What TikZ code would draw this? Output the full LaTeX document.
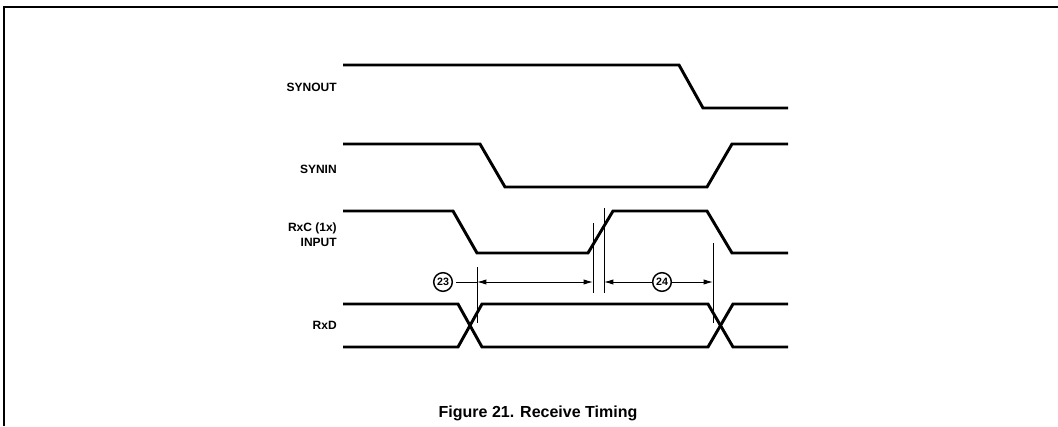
\documentclass[tikz,border=0pt]{standalone}
\usepackage{fontspec}
\setmainfont{Liberation Sans}
\usetikzlibrary{positioning,arrows.meta}

\begin{document}
\begin{tikzpicture}[x=0.75pt,y=-0.75pt,
  sig/.style={line width=2.2pt,line join=miter},
  dim/.style={line width=0.7pt,>={Latex[length=7pt,width=4pt]}},
  lbl/.style={font=\small\bfseries,anchor=east,align=right,inner sep=0pt},
  tnum/.style={draw,circle,line width=1.1pt,inner sep=0pt,minimum size=14pt,font=\footnotesize\bfseries}]
\useasboundingbox (0,0) rectangle (1058,426);
%\draw[help lines,step=50] (0,0) grid (1058,426);
\draw[line width=1.5pt] (4,426) -- (4,7) -- (1058,7);
% signal names
\node[lbl] (synout) at (337,87) {SYNOUT};
\node[lbl] (synin) at (337,169) {SYNIN};
\node[lbl] (rxc) at (337,235) {RxC (1x)\\INPUT};
\node[lbl] (rxd) at (337,325) {RxD};
% waveforms
\draw[sig] (343,65) -- (679,65) -- (703,108) -- (788,108);
\draw[sig] (343,144) -- (480,144) -- (505,187) -- (707,187) -- (732,144) -- (788,144);
\draw[sig] (343,211) -- (453,211) -- (477,253) -- (588,253) -- (613,211) -- (707,211) -- (732,253) -- (788,253);
\draw[sig] (343,304) -- (458,304) -- (482,347) -- (708,347) -- (733,304) -- (788,304);
\draw[sig] (343,347) -- (458,347) -- (482,304) -- (708,304) -- (733,347) -- (788,347);
% timing marks
\draw[dim] (477,267) -- (477,323);
\draw[dim] (593,223) -- (593,293);
\draw[dim] (604,208) -- (604,293);
\draw[dim] (713,243) -- (713,323);
\coordinate (m1) at (477,282);
\coordinate (m2) at (593,282);
\coordinate (m3) at (604,282);
\coordinate (m4) at (713,282);
\node[tnum] (p23) at (443,282) {23};
\node[tnum] (p24) at (662,282) {24};
\draw[dim] (p23.east) ++(3,0) -- (m1);
\draw[dim,<->] (m1) -- (m2);
\draw[dim,->] (p24) -- (m3);
\draw[dim,->] (p24) -- (m4);
% caption
\node[font=\large\bfseries,inner sep=0pt] (cap) at (538,413) {Figure 21. Receive Timing};
\end{tikzpicture}
\end{document}
